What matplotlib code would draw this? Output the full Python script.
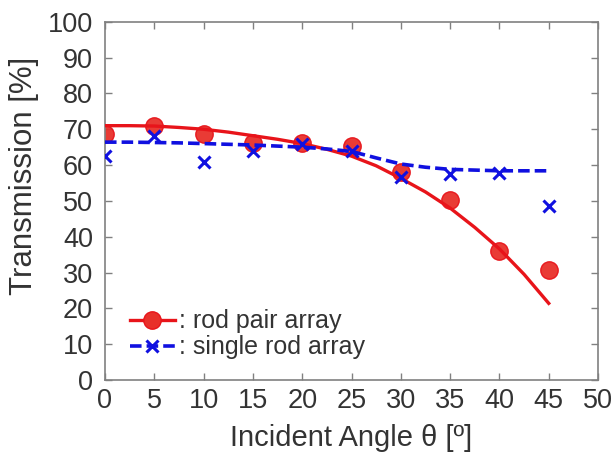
import matplotlib
matplotlib.use("Agg")
import matplotlib.pyplot as plt
from matplotlib.lines import Line2D

plt.rcParams['font.family'] = ['Liberation Sans', 'DejaVu Sans']

# measured points
angles = [0, 5, 10, 15, 20, 25, 30, 35, 40, 45]
rod_pair = [68.7, 71.0, 68.7, 66.2, 66.2, 65.2, 58.1, 50.3, 36.1, 30.8]
single_rod = [62.4, 68.2, 60.8, 64.0, 66.0, 63.8, 56.8, 57.5, 57.8, 48.6]

# fitted curves
fit_angles = [0, 2.5, 5, 7.5, 10, 12.5, 15, 17.5, 20, 22.5, 25, 27.5, 30, 32.5,
              35, 37.5, 40, 42.5, 45]
rod_pair_fit = [71.0, 71.0, 70.9, 70.5, 70.0, 69.2, 68.2, 67.2, 66.0, 64.4, 62.5,
                59.8, 56.3, 52.5, 48.0, 42.6, 36.6, 29.5, 21.4]
single_rod_fit = [66.4, 66.4, 66.3, 66.2, 66.0, 65.8, 65.6, 65.3, 65.0, 64.5, 63.8,
                  62.0, 60.3, 59.4, 58.8, 58.6, 58.4, 58.4, 58.4]

xticks = [0, 5, 10, 15, 20, 25, 30, 35, 40, 45, 50]
yticks = [0, 10, 20, 30, 40, 50, 60, 70, 80, 90, 100]

red = '#e8141a'
blue = '#1010e0'
txt = '#333333'

fig = plt.figure(figsize=(6.14, 4.54), dpi=100)
ax = fig.add_axes([0.171, 0.163, 0.803, 0.789])

ax.plot(fit_angles, rod_pair_fit, color=red, lw=2.4, zorder=3)
ax.plot(fit_angles, single_rod_fit, color=blue, lw=2.6, ls=(0, (3.2, 1.4)), zorder=3)
ax.plot(angles, rod_pair, ls='none', marker='o', ms=12.5, color=red,
        markerfacecolor='#e8302a', markeredgecolor=red, alpha=0.95, zorder=2)
ax.plot(angles, single_rod, ls='none', marker='x', ms=8.5, mew=2.2, color=blue, zorder=4)

ax.set_xlim(0, 50)
ax.set_ylim(0, 100)
ax.set_xticks(xticks)
ax.set_yticks(yticks)
ax.tick_params(direction='in', length=5, width=1, colors='#808080',
               labelcolor=txt, labelsize=19.5, top=True, right=True)
ax.tick_params(axis='x', pad=5.5)
ax.tick_params(axis='y', pad=8.5)
for s in ax.spines.values():
    s.set_color('#808080')
    s.set_linewidth(1.2)

fig.text(351.5 / 614, 1.5 / 454, 'Incident Angle θ [º]', fontsize=21, color=txt,
         ha='center', va='bottom')
fig.text(24 / 614, 1 - 176 / 454, 'Transmission [%]', fontsize=22.5, color=txt,
         ha='center', va='center', rotation=90)

h1 = Line2D([], [], color=red, lw=2.4, marker='o', ms=12.5, markerfacecolor='#e8302a')
h2 = Line2D([], [], color=blue, lw=2.6, ls=(0, (3.2, 1.4)), marker='x', ms=8.5, mew=2.2)
leg = ax.legend([h1, h2], [': rod pair array', ': single rod array'],
                loc='lower left', bbox_to_anchor=(0.03, 0.03), frameon=False,
                fontsize=18, handlelength=1.8, handletextpad=0.15,
                labelspacing=0.08, borderaxespad=0, numpoints=1)
for t in leg.get_texts():
    t.set_color(txt)

fig.savefig('out.png', dpi=100)
